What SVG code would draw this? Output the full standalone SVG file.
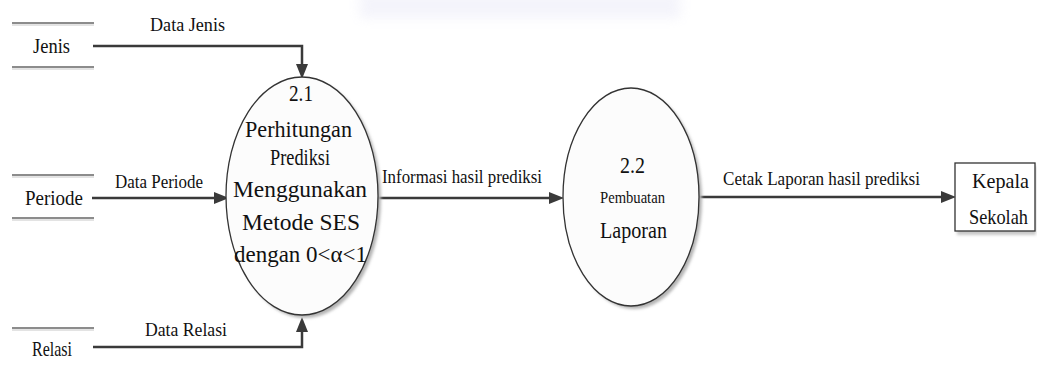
<svg xmlns="http://www.w3.org/2000/svg" width="1037" height="365" viewBox="0 0 1037 365" font-family="'Liberation Serif', 'Times New Roman', serif">
<style>
text{font-family:"Liberation Serif","Times New Roman",serif;fill:#111;}
.lbl{font-size:19px;}
.st{font-size:21px;}
.pt{font-size:24px;}
.sm{font-size:17px;}
.bx{font-size:22px;}
.flow{fill:none;stroke:#3a3a3a;stroke-width:2.5;marker-end:url(#arr);}
.sl{stroke:#666;stroke-width:1.4;}
.sl2{stroke:#c8c8c8;stroke-width:1;}
.proc{fill:#fcfcfc;stroke:#333;stroke-width:1.3;}
.shadow{fill:#b4b4b4;filter:url(#blur);}
</style>
<defs>
<marker id="arr" markerUnits="userSpaceOnUse" markerWidth="16" markerHeight="14" viewBox="0 -7 16 14" refX="0" refY="0" orient="auto">
<path d="M0,-6 L15,0 L0,6 Z" fill="#3a3a3a"/>
</marker>
<filter id="blur" x="-10%" y="-10%" width="120%" height="120%"><feGaussianBlur stdDeviation="1.5"/></filter>
<filter id="wblur" x="-20%" y="-100%" width="140%" height="300%"><feGaussianBlur stdDeviation="6"/></filter>
</defs>

<rect x="360" y="-8" width="320" height="26" fill="#e6e6f6" opacity="0.45" filter="url(#wblur)"/>

<g id="connectors">
<path class="flow" d="M93,46 H302 V64"/>
<path class="flow" d="M92,198 H214"/>
<path class="flow" d="M93,347 H302 V332"/>
<path class="flow" d="M377,198 H549"/>
<path class="flow" d="M698,197 H941"/>
<text class="lbl" x="150" y="31" textLength="75" lengthAdjust="spacingAndGlyphs">Data Jenis</text>
<text class="lbl" x="115" y="188" textLength="88" lengthAdjust="spacingAndGlyphs">Data Periode</text>
<text class="lbl" x="145" y="336" textLength="82" lengthAdjust="spacingAndGlyphs">Data Relasi</text>
<text class="lbl" x="382" y="183" textLength="160" lengthAdjust="spacingAndGlyphs">Informasi hasil prediksi</text>
<text class="lbl" x="723" y="185" textLength="197" lengthAdjust="spacingAndGlyphs">Cetak Laporan hasil prediksi</text>
</g>

<g id="store-jenis">
<line class="sl" x1="12" y1="23" x2="94" y2="23"/><line class="sl2" x1="12" y1="25" x2="94" y2="25"/>
<line class="sl" x1="12" y1="67" x2="94" y2="67"/><line class="sl2" x1="12" y1="69" x2="94" y2="69"/>
<text class="st" x="33" y="53" textLength="37" lengthAdjust="spacingAndGlyphs">Jenis</text>
</g>

<g id="store-periode">
<line class="sl" x1="12" y1="175" x2="94" y2="175"/><line class="sl2" x1="12" y1="177" x2="94" y2="177"/>
<line class="sl" x1="12" y1="218" x2="94" y2="218"/><line class="sl2" x1="12" y1="220" x2="94" y2="220"/>
<text class="st" x="25" y="205" textLength="58" lengthAdjust="spacingAndGlyphs">Periode</text>
</g>

<g id="store-relasi">
<line class="sl" x1="12" y1="328" x2="94" y2="328"/><line class="sl2" x1="12" y1="330" x2="94" y2="330"/>
<text class="st" x="32" y="356" textLength="40" lengthAdjust="spacingAndGlyphs">Relasi</text>
</g>

<g id="process-2-1">
<ellipse class="shadow" cx="305" cy="199" rx="76" ry="119"/>
<ellipse class="proc" cx="302" cy="196" rx="76" ry="119"/>
<text class="pt" x="289" y="101" textLength="24" lengthAdjust="spacingAndGlyphs">2.1</text>
<text class="pt" x="245" y="137" textLength="107" lengthAdjust="spacingAndGlyphs">Perhitungan</text>
<text class="pt" x="270" y="165" textLength="60" lengthAdjust="spacingAndGlyphs">Prediksi</text>
<text class="pt" x="233" y="197" textLength="134" lengthAdjust="spacingAndGlyphs">Menggunakan</text>
<text class="pt" x="242" y="230" textLength="118" lengthAdjust="spacingAndGlyphs">Metode SES</text>
<text class="pt" x="234" y="262" textLength="133" lengthAdjust="spacingAndGlyphs">dengan 0&lt;α&lt;1</text>
</g>

<g id="process-2-2">
<ellipse class="shadow" cx="634" cy="200" rx="68" ry="109"/>
<ellipse class="proc" cx="631" cy="197" rx="68" ry="109"/>
<text class="pt" x="620" y="173" textLength="25" lengthAdjust="spacingAndGlyphs">2.2</text>
<text class="sm" x="600" y="203" textLength="65" lengthAdjust="spacingAndGlyphs">Pembuatan</text>
<text class="pt" x="600" y="238" textLength="67" lengthAdjust="spacingAndGlyphs">Laporan</text>
</g>

<g id="kepala-sekolah">
<rect x="957" y="166" width="79" height="69" fill="#c8c8c8" filter="url(#blur)"/>
<rect x="955" y="163" width="80" height="68" fill="#fff" stroke="#333" stroke-width="1.3"/>
<text class="bx" x="972" y="188" textLength="57" lengthAdjust="spacingAndGlyphs">Kepala</text>
<text class="bx" x="969" y="224" textLength="59" lengthAdjust="spacingAndGlyphs">Sekolah</text>
</g>
</svg>
